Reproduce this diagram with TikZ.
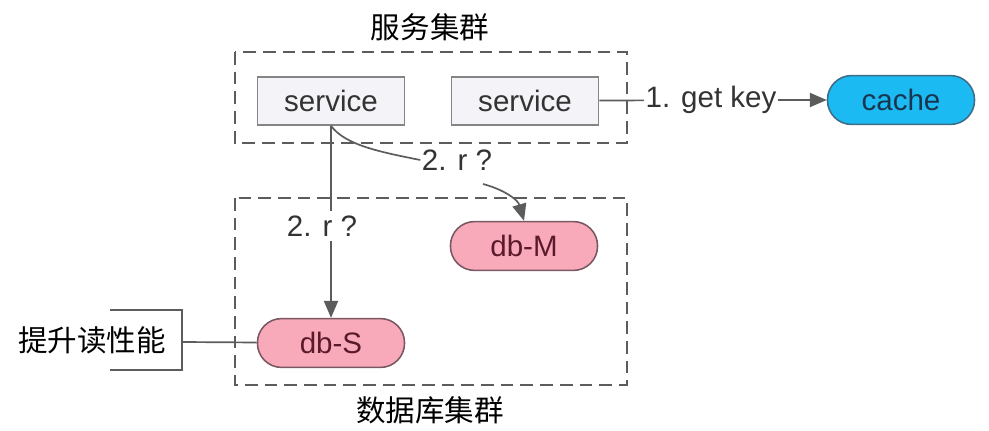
\documentclass[tikz,border=0pt]{standalone}
\usepackage{fontspec}
\setmainfont{Liberation Sans}
\newfontfamily\cjk{Noto Sans CJK SC}
\usetikzlibrary{arrows.meta}

\definecolor{svcfill}{HTML}{F4F3F8}
\definecolor{svcline}{HTML}{858585}
\definecolor{cachefill}{HTML}{1CBAF2}
\definecolor{cacheline}{HTML}{3C6E88}
\definecolor{cachetext}{HTML}{1A3550}
\definecolor{dbfill}{HTML}{F8AABA}
\definecolor{dbline}{HTML}{7A5862}
\definecolor{dbtext}{HTML}{5A1A2C}
\definecolor{wire}{HTML}{5C5C5C}

\tikzset{
  big/.style={font=\fontsize{21}{25}\selectfont},
  svc/.style={big, draw=svcline, fill=svcfill, line width=1.1pt, minimum width=3.675cm, minimum height=1.2cm, text=black!80},
  pill/.style={big, rounded corners=0.6cm, line width=1.1pt, minimum width=3.675cm, minimum height=1.22cm},
  cluster/.style={draw=wire, dash pattern=on 9pt off 5pt, line width=1.2pt},
  wirestyle/.style={draw=wire, line width=1.2pt},
  arr/.style={wirestyle, -{Triangle[length=12pt,width=10pt]}}
}

\begin{document}
\begin{tikzpicture}[x=0.025cm, y=-0.025cm]
        \useasboundingbox[fill=white] (0,0) rectangle (989,431);

        % clusters
        \draw[cluster] (235,52) rectangle (627,143);
        \draw[cluster] (235,198) rectangle (627,385);
        \node[big] (svct) at (430,27) {\cjk 服务集群};
        \node[big] (dbt) at (430,410) {\cjk 数据库集群};

        \node[svc] (s1) at (331,101) {service};
        \node[svc] (s2) at (525,101) {service};
        \node[pill, draw=cacheline, fill=cachefill, text=cachetext] (cache) at (901,100) {cache};
        \node[pill, draw=dbline, fill=dbfill, text=dbtext] (dbM) at (524,246) {db-M};
        \node[pill, draw=dbline, fill=dbfill, text=dbtext] (dbS) at (331,343) {db-S};

        \node[big, text=black!80, inner sep=1pt] (gk) at (711,100) {1. get key};
        \node[big, text=black!80, inner sep=1pt] (rM) at (457,160) {2. r ?};
        \node[big, text=black!80, fill=white, inner sep=3pt] (rS) at (322,226) {2. r ?};

        \draw[wirestyle] (s2) -- (gk);
        \draw[arr] (gk) -- (cache);

        \draw[wirestyle] (s1.south) -- (s1.south |- rS.north);
        \draw[arr] (s1.south |- rS.south) -- (dbS.north);

        \draw[wirestyle] (s1.south) .. controls (345,145) and (380,152) .. (rM.west);
        \draw[arr] (483,184) .. controls (505,190) and (518,200) .. (dbM.north);

        % bracket
        \node[big] (perf) at (92,340) {\cjk 提升读性能};
        \draw[wirestyle] (110,310) -- (182,310) -- (182,370) -- (110,370);
        \coordinate (br) at (182,342);
        \draw[wirestyle] (br) -- (dbS);
\end{tikzpicture}
\end{document}
